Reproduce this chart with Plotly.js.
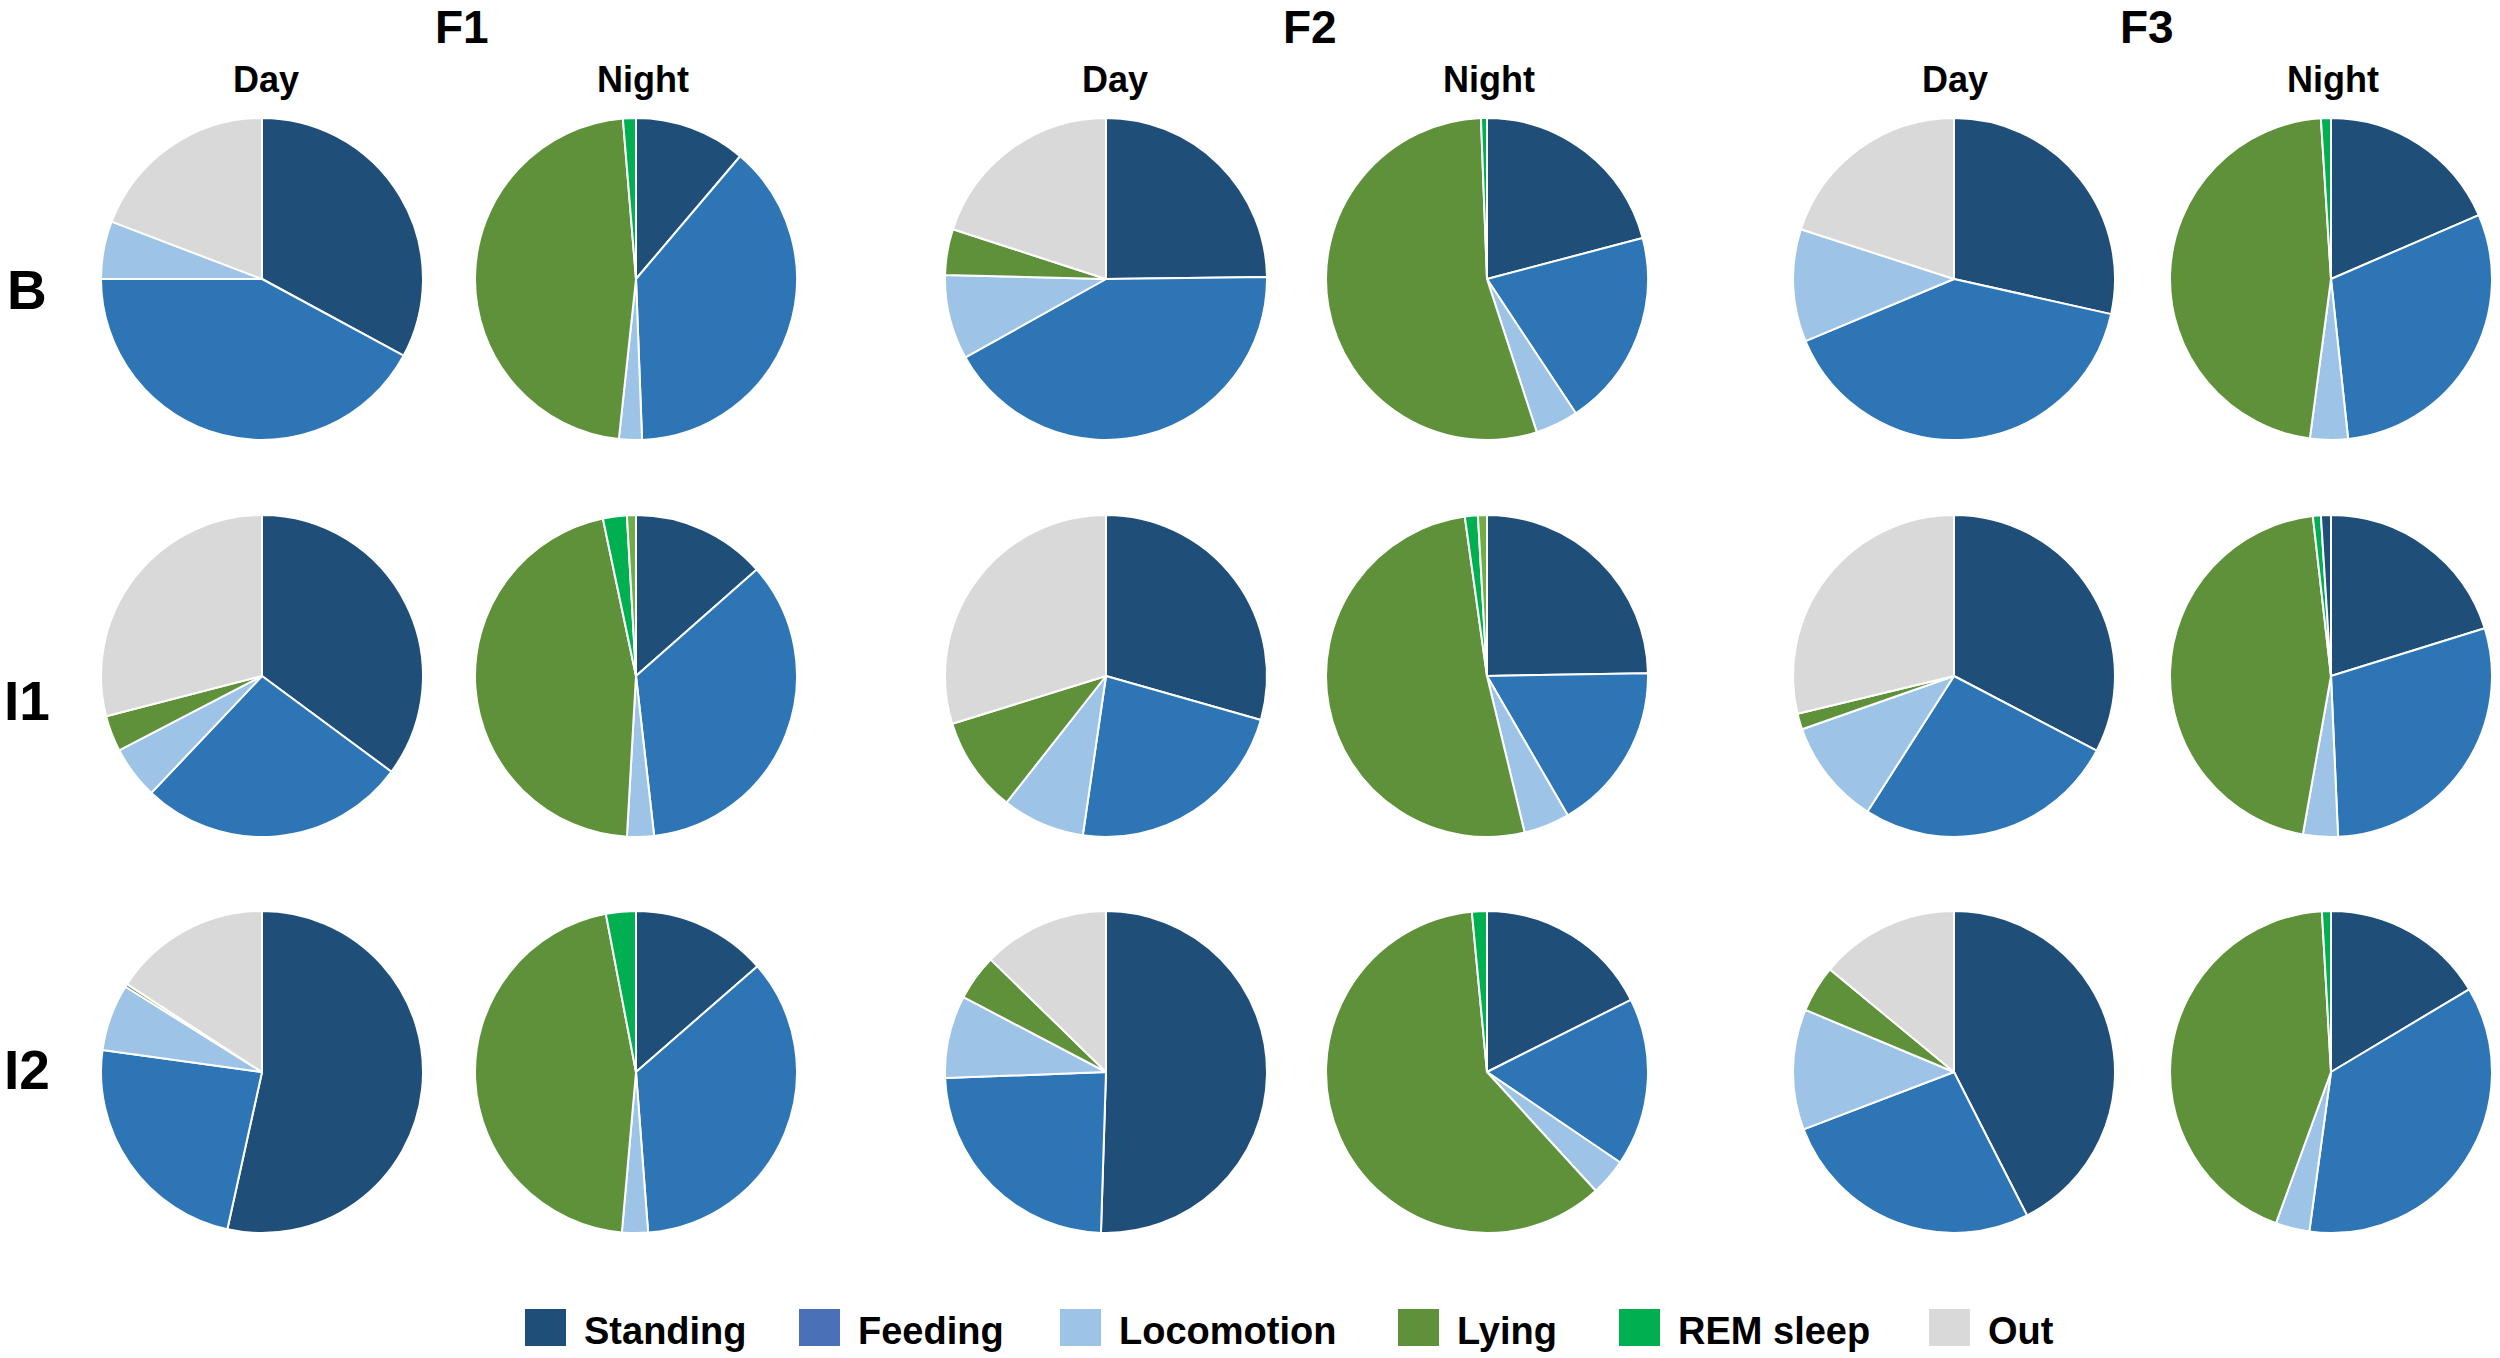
<!DOCTYPE html>
<html>
<head>
<meta charset="utf-8">
<script src="https://cdn.plot.ly/plotly-3.0.1.min.js"></script>
<style>
  html, body { margin: 0; padding: 0; background: #fff; }
  #chart { width: 2500px; height: 1358px; }
</style>
</head>
<body>
<div id="chart"></div>
<script>
// Slice order clockwise from 12 o'clock; the last two entries are the
// thin unlabelled slivers that sit after REM sleep on some night pies.
const CATEGORIES = ['Standing', 'Feeding', 'Locomotion', 'Lying', 'REM sleep', 'Out', 'Other', 'Other (2)'];
const LEGEND_CATEGORIES = CATEGORIES.slice(0, 6);
const FEEDS = ['F1', 'F2', 'F3'];
const PERIODS = ['Day', 'Night'];
const TREATMENTS = ['B', 'I1', 'I2'];

const B_F1_DAY   = [32.9, 42.1,  5.8,  0.0, 0.0, 19.2, 0, 0];
const B_F1_NIGHT = [11.2, 38.2,  2.3, 47.0, 1.3,  0.0, 0, 0];
const B_F2_DAY   = [24.8, 42.1,  8.5,  4.6, 0.0, 20.0, 0, 0];
const B_F2_NIGHT = [20.9, 19.8,  4.3, 54.4, 0.6,  0.0, 0, 0];
const B_F3_DAY   = [28.5, 40.2, 11.3,  0.0, 0.0, 20.0, 0, 0];
const B_F3_NIGHT = [18.5, 29.8,  3.8, 46.9, 1.0,  0.0, 0, 0];

const I1_F1_DAY   = [35.1, 26.9,  5.3,  3.6, 0.0, 29.0, 0,   0];
const I1_F1_NIGHT = [13.5, 34.7,  2.7, 45.8, 2.4,  0.0, 0.9, 0];
const I1_F2_DAY   = [29.4, 22.9,  8.3,  9.6, 0.0, 29.8, 0,   0];
const I1_F2_NIGHT = [24.7, 16.9,  4.6, 51.5, 1.3,  0.0, 0.9, 0];
const I1_F3_DAY   = [32.7, 26.4, 10.6,  1.6, 0.0, 28.8, 0,   0];
const I1_F3_NIGHT = [20.2, 29.1,  3.5, 45.4, 0.8,  0.0, 0,   1.0];

const I2_F1_DAY   = [53.4, 23.7,  6.7,  0.3, 0.0, 15.8, 0, 0];
const I2_F1_NIGHT = [13.6, 35.2,  2.6, 45.6, 3.0,  0.0, 0, 0];
const I2_F2_DAY   = [50.5, 23.9,  8.3,  4.6, 0.0, 12.7, 0, 0];
const I2_F2_NIGHT = [17.6, 16.9,  3.7, 60.3, 1.5,  0.0, 0, 0];
const I2_F3_DAY   = [42.5, 26.7, 12.1,  4.7, 0.0, 14.0, 0, 0];
const I2_F3_NIGHT = [16.4, 35.7,  3.4, 43.5, 0.9,  0.0, 0, 0];

// rows = treatments, columns = F1 day, F1 night, F2 day, ...
const GRID = [
  [B_F1_DAY, B_F1_NIGHT, B_F2_DAY, B_F2_NIGHT, B_F3_DAY, B_F3_NIGHT],
  [I1_F1_DAY, I1_F1_NIGHT, I1_F2_DAY, I1_F2_NIGHT, I1_F3_DAY, I1_F3_NIGHT],
  [I2_F1_DAY, I2_F1_NIGHT, I2_F2_DAY, I2_F2_NIGHT, I2_F3_DAY, I2_F3_NIGHT]
];

// ---- styling / layout (pixels of the 2500x1358 canvas) ----
const W = 2500, H = 1358;
const SLICE_COLORS = ['#1F4E79', '#2E75B6', '#9DC3E6', '#5F913A', '#00B050', '#D9D9D9', '#70AD47', '#1F4E79'];
const LEGEND_COLORS = ['#1F4E79', '#4A70B7', '#9DC3E6', '#5F913A', '#00B050', '#D9D9D9'];
const COL_X = [262, 636, 1106, 1487, 1954, 2331];
const ROW_Y = [279, 676, 1072];
const R = 161;
const FEED_X = [462, 1310, 2147];
const PERIOD_X = [266, 643, 1115, 1489, 1955, 2333];
const ROW_LABEL_Y = [287, 698, 1067];
const LEGEND_X = [525, 799, 1060, 1398, 1619, 1929];
const LEGEND_Y = 1328;
const FONT = '"Liberation Sans", Arial, sans-serif';

const px = x => x / W;
const py = y => 1 - y / H;

const traces = [];
GRID.forEach((row, r) => {
  row.forEach((vals, c) => {
    const labels = [], values = [], colors = [];
    vals.forEach((v, i) => {
      if (v > 0) { labels.push(CATEGORIES[i]); values.push(v); colors.push(SLICE_COLORS[i]); }
    });
    traces.push({
      type: 'pie',
      name: `${TREATMENTS[r]} ${FEEDS[Math.floor(c / 2)]} ${PERIODS[c % 2]}`,
      labels, values,
      sort: false, direction: 'clockwise', rotation: 0,
      marker: { colors, line: { color: '#ffffff', width: 2 } },
      textinfo: 'none',
      hovertemplate: '%{label}: %{value:.1f}%<extra>%{fullData.name}</extra>',
      showlegend: false,
      domain: {
        x: [px(COL_X[c] - R), px(COL_X[c] + R)],
        y: [py(ROW_Y[r] + R), py(ROW_Y[r] - R)]
      }
    });
  });
});

const annotations = [];
const txt = (text, x, y, size, anchor, vanchor) => annotations.push({
  text, x: px(x), y: py(y), xref: 'paper', yref: 'paper',
  xanchor: anchor || 'center', yanchor: vanchor || 'middle', showarrow: false,
  borderpad: 0,
  font: { family: FONT, size, color: '#000000', weight: 'bold' }
});

FEEDS.forEach((f, i) => txt(`<b>${f}</b>`, FEED_X[i], 0, 46, 'center', 'top'));
PERIOD_X.forEach((x, i) => txt(`<b>${PERIODS[i % 2]}</b>`, x, 79, 36));
TREATMENTS.forEach((t, i) => txt(`<b>${t}</b>`, 27, ROW_LABEL_Y[i] + 3, 55));

const shapes = [];
LEGEND_CATEGORIES.forEach((cat, i) => {
  shapes.push({
    type: 'rect', xref: 'paper', yref: 'paper',
    x0: px(LEGEND_X[i]), x1: px(LEGEND_X[i] + 41),
    y0: py(LEGEND_Y + 18), y1: py(LEGEND_Y - 19),
    fillcolor: LEGEND_COLORS[i], line: { width: 0 }
  });
  txt(`<b>${cat}</b>`, LEGEND_X[i] + 58, LEGEND_Y + 3, 38, 'left');
});

const layout = {
  width: W, height: H,
  margin: { l: 0, r: 0, t: 0, b: 0 },
  paper_bgcolor: '#ffffff', plot_bgcolor: '#ffffff',
  showlegend: false,
  annotations, shapes
};

Plotly.newPlot('chart', traces, layout, { displayModeBar: false, staticPlot: true });
</script>
</body>
</html>
